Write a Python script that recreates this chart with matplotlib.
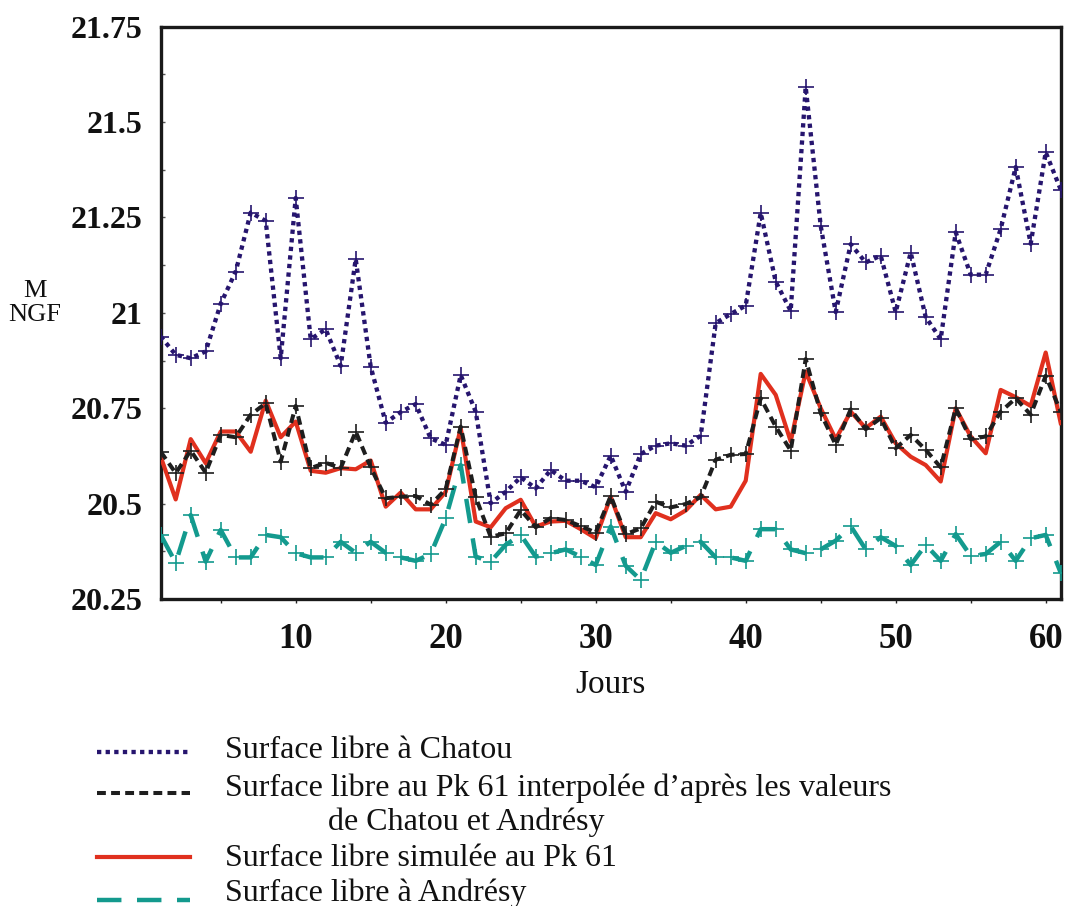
import matplotlib
matplotlib.use('Agg')
import matplotlib.pyplot as plt
from matplotlib.lines import Line2D
from matplotlib.ticker import FixedLocator, NullFormatter

plt.rcParams['font.family'] = ['Liberation Serif', 'DejaVu Serif']

days = list(range(1, 62))

chatou = [20.938, 20.890, 20.881, 20.899, 21.024, 21.108, 21.263, 21.241, 20.881, 21.301,
          20.931, 20.957, 20.861, 21.141, 20.859, 20.712, 20.740, 20.761, 20.671, 20.654,
          20.837, 20.741, 20.501, 20.531, 20.569, 20.540, 20.588, 20.560, 20.560, 20.543,
          20.626, 20.531, 20.630, 20.652, 20.658, 20.652, 20.678, 20.973, 20.997, 21.019,
          21.262, 21.082, 21.005, 21.592, 21.228, 21.002, 21.180, 21.132, 21.150, 21.002,
          21.158, 20.989, 20.931, 21.211, 21.100, 21.100, 21.220, 21.382, 21.181, 21.421, 21.323]

interp = [20.636, 20.580, 20.639, 20.581, 20.680, 20.674, 20.733, 20.763, 20.610, 20.756,
          20.593, 20.607, 20.593, 20.689, 20.595, 20.514, 20.518, 20.520, 20.497, 20.538,
          20.702, 20.517, 20.413, 20.422, 20.483, 20.438, 20.462, 20.457, 20.441, 20.424,
          20.520, 20.420, 20.435, 20.505, 20.490, 20.499, 20.517, 20.615, 20.628, 20.630,
          20.776, 20.702, 20.639, 20.879, 20.737, 20.654, 20.747, 20.695, 20.724, 20.645,
          20.680, 20.641, 20.595, 20.750, 20.669, 20.676, 20.741, 20.776, 20.733, 20.835, 20.741]

simul = [20.623, 20.511, 20.669, 20.606, 20.689, 20.689, 20.636, 20.770, 20.674, 20.715,
         20.586, 20.581, 20.593, 20.590, 20.613, 20.492, 20.529, 20.485, 20.485, 20.531,
         20.698, 20.453, 20.438, 20.488, 20.510, 20.440, 20.453, 20.455, 20.433, 20.409,
         20.518, 20.412, 20.412, 20.475, 20.459, 20.482, 20.523, 20.485, 20.492, 20.560,
         20.840, 20.785, 20.663, 20.846, 20.750, 20.669, 20.741, 20.698, 20.728, 20.658,
         20.623, 20.601, 20.558, 20.750, 20.676, 20.632, 20.798, 20.779, 20.756, 20.896, 20.711]

andresy = [20.418, 20.345, 20.470, 20.348, 20.431, 20.359, 20.359, 20.418, 20.412, 20.370,
           20.359, 20.359, 20.400, 20.371, 20.400, 20.371, 20.359, 20.350, 20.368, 20.462,
           20.601, 20.361, 20.348, 20.392, 20.418, 20.361, 20.370, 20.380, 20.361, 20.339,
           20.440, 20.337, 20.300, 20.400, 20.371, 20.389, 20.400, 20.359, 20.359, 20.350,
           20.433, 20.433, 20.380, 20.370, 20.380, 20.403, 20.441, 20.380, 20.412, 20.389,
           20.339, 20.392, 20.350, 20.420, 20.363, 20.368, 20.400, 20.350, 20.409, 20.418, 20.319]

x_ticks = [10, 20, 30, 40, 50, 60]
x_minor = [5, 15, 25, 35, 45, 55]
y_ticks = [20.25, 20.5, 20.75, 21, 21.25, 21.5, 21.75]
y_labels = ['20.25', '20.5', '20.75', '21', '21.25', '21.5', '21.75']

legend_labels = ['Surface libre à Chatou',
                 'Surface libre au Pk 61 interpolée d\u2019après les valeurs',
                 'Surface libre simulée au Pk 61',
                 'Surface libre à Andrésy']
legend_cont = 'de Chatou et Andrésy'

c_chatou = '#26156e'
c_interp = '#1e1e1e'
c_simul = '#e0301e'
c_andresy = '#139a8e'

W, H = 1065, 906
fig = plt.figure(figsize=(W / 100, H / 100), dpi=100)
ax = fig.add_axes([160.7 / W, 1 - 599 / H, 900 / W, (599 - 26.7) / H])

st_chatou = dict(color=c_chatou, lw=3.1, ls=(0, (1, 1.0)), dash_capstyle='butt')
st_interp = dict(color=c_interp, lw=2.9, ls=(0, (2.2, 1.3)), dash_capstyle='butt')
st_simul = dict(color=c_simul, lw=3.0, ls='-')
st_andresy = dict(color=c_andresy, lw=3.2, ls=(0, (5.5, 3.5)), dash_capstyle='butt')

mk = dict(marker='+', markersize=11, markeredgewidth=1.2)

ax.plot(days, chatou, **st_chatou, **mk, markeredgecolor=c_chatou, zorder=3)
ax.plot(days, simul, **st_simul, zorder=4)
ax.plot(days, interp, **st_interp, **mk, markeredgecolor=c_interp, zorder=5)
ax.plot(days, andresy, **st_andresy, **mk, markeredgecolor=c_andresy, zorder=3)

ax.set_xlim(1, 61)
ax.set_ylim(20.25, 21.75)

ax.xaxis.set_major_locator(FixedLocator(x_ticks))
ax.xaxis.set_minor_locator(FixedLocator(x_minor))
ax.xaxis.set_minor_formatter(NullFormatter())
ax.set_xticklabels([str(t) for t in x_ticks], fontsize=25, fontweight='bold')
ax.tick_params(axis='x', which='both', direction='out', length=3, width=1, pad=14, colors='#222222')
ax.tick_params(axis='x', labelcolor='#111111')

ax.set_yticks(y_ticks)
ax.set_yticklabels(y_labels, fontsize=23, fontweight='bold')
ax.yaxis.set_minor_locator(FixedLocator([20.375, 20.625, 20.875, 21.125, 21.375, 21.625]))
ax.tick_params(axis='y', which='both', direction='in', length=3, width=1, pad=13, colors='#555555')
ax.tick_params(axis='y', labelcolor='#111111')

for s in ax.spines.values():
    s.set_linewidth(2.4)
    s.set_color('#1a1a1a')

ax.set_xlabel('Jours', fontsize=24, labelpad=10, color='#111111')
fig.text(35 / W, 1 - 303 / H, 'M\nNGF', fontsize=19, ha='center', va='center',
         linespacing=1.1, color='#111111')

# legend (manual)
rows_line_y = [752, 793, 857, 900]
rows_text_y = [750, 788, 858, 893]
leg_styles = [st_chatou, st_interp, st_simul, st_andresy]
for ly, ty, lab, st in zip(rows_line_y, rows_text_y, legend_labels, leg_styles):
    fig.add_artist(Line2D([97 / W, 190 / W], [1 - ly / H, 1 - ly / H],
                          transform=fig.transFigure, **st))
    fig.text(225 / W, 1 - ty / H, lab, fontsize=23, ha='left', va='center', color='#111111')
fig.text(328 / W, 1 - 822 / H, legend_cont, fontsize=23, ha='left', va='center', color='#111111')

fig.savefig('out.png', dpi=100)
